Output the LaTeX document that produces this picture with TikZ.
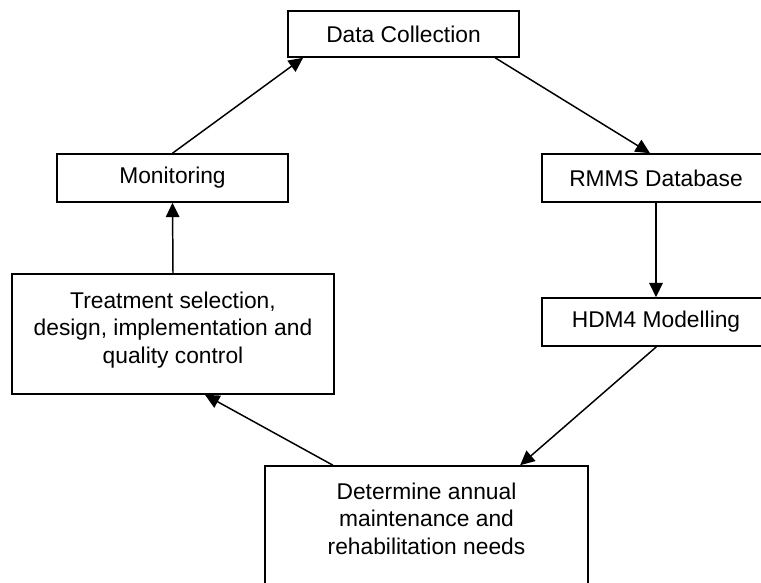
\documentclass[tikz,border=0pt]{standalone}
\usepackage{fontspec}
\setmainfont{Liberation Sans}
\usetikzlibrary{arrows.meta}
\tikzset{
  box/.style={draw, line width=1.1pt, font=\fontsize{16.2}{20}\selectfont, align=center, inner sep=0pt},
  txt/.style={font=\fontsize{16.2}{19.6}\selectfont, align=center, inner sep=0pt},
  flow/.style={line width=1.05pt, -{Triangle[length=0.36cm,width=0.34cm]}}
}
\begin{document}
\begin{tikzpicture}[x=0.025cm,y=-0.025cm]
    \useasboundingbox (0,0) rectangle (761,583);
    \clip (0,0) rectangle (761,583);
    % the cycle of stages
    \node[box, minimum width=5.775cm, minimum height=1.15cm] (dc) at (403.5,34) {Data Collection};
    \node[box, minimum width=5.7cm, minimum height=1.2cm] (rmms) at (656,178) {RMMS Database};
    \node[box, minimum width=5.7cm, minimum height=1.2cm] (hdm) at (656,322) {HDM4 Modelling};
    \node[box, minimum width=5.775cm, minimum height=1.2cm] (mon) at (172.5,178) {Monitoring};
    \node[box, minimum width=8.05cm, minimum height=3cm] (treat) at (173,334) {};
    \node[txt, anchor=north] (treattxt) at ([yshift=-0.45cm]treat.north) {Treatment selection,\\design, implementation and\\quality control};
    \node[box, minimum width=8.075cm, minimum height=4cm] (det) at (426.5,546) {};
    \node[txt, anchor=north] (dettxt) at ([yshift=-0.43cm]det.north) {Determine annual\\maintenance and\\rehabilitation needs};
    % arrows
    \draw[flow] ([xshift=2.29cm]dc.south) -- ([xshift=-0.15cm]rmms.north);
    \draw[flow] (rmms.south) -- (hdm.north);
    \draw[flow] ([xshift=0.01cm]hdm.south) -- ([xshift=2.34cm]det.north);
    \draw[flow] ([xshift=-2.34cm]det.north) -- ([xshift=0.8cm]treat.south);
    \draw[flow] (treat.north) -- (mon.south);
    \draw[flow] (mon.north) -- ([xshift=-2.51cm]dc.south);
\end{tikzpicture}
\end{document}
